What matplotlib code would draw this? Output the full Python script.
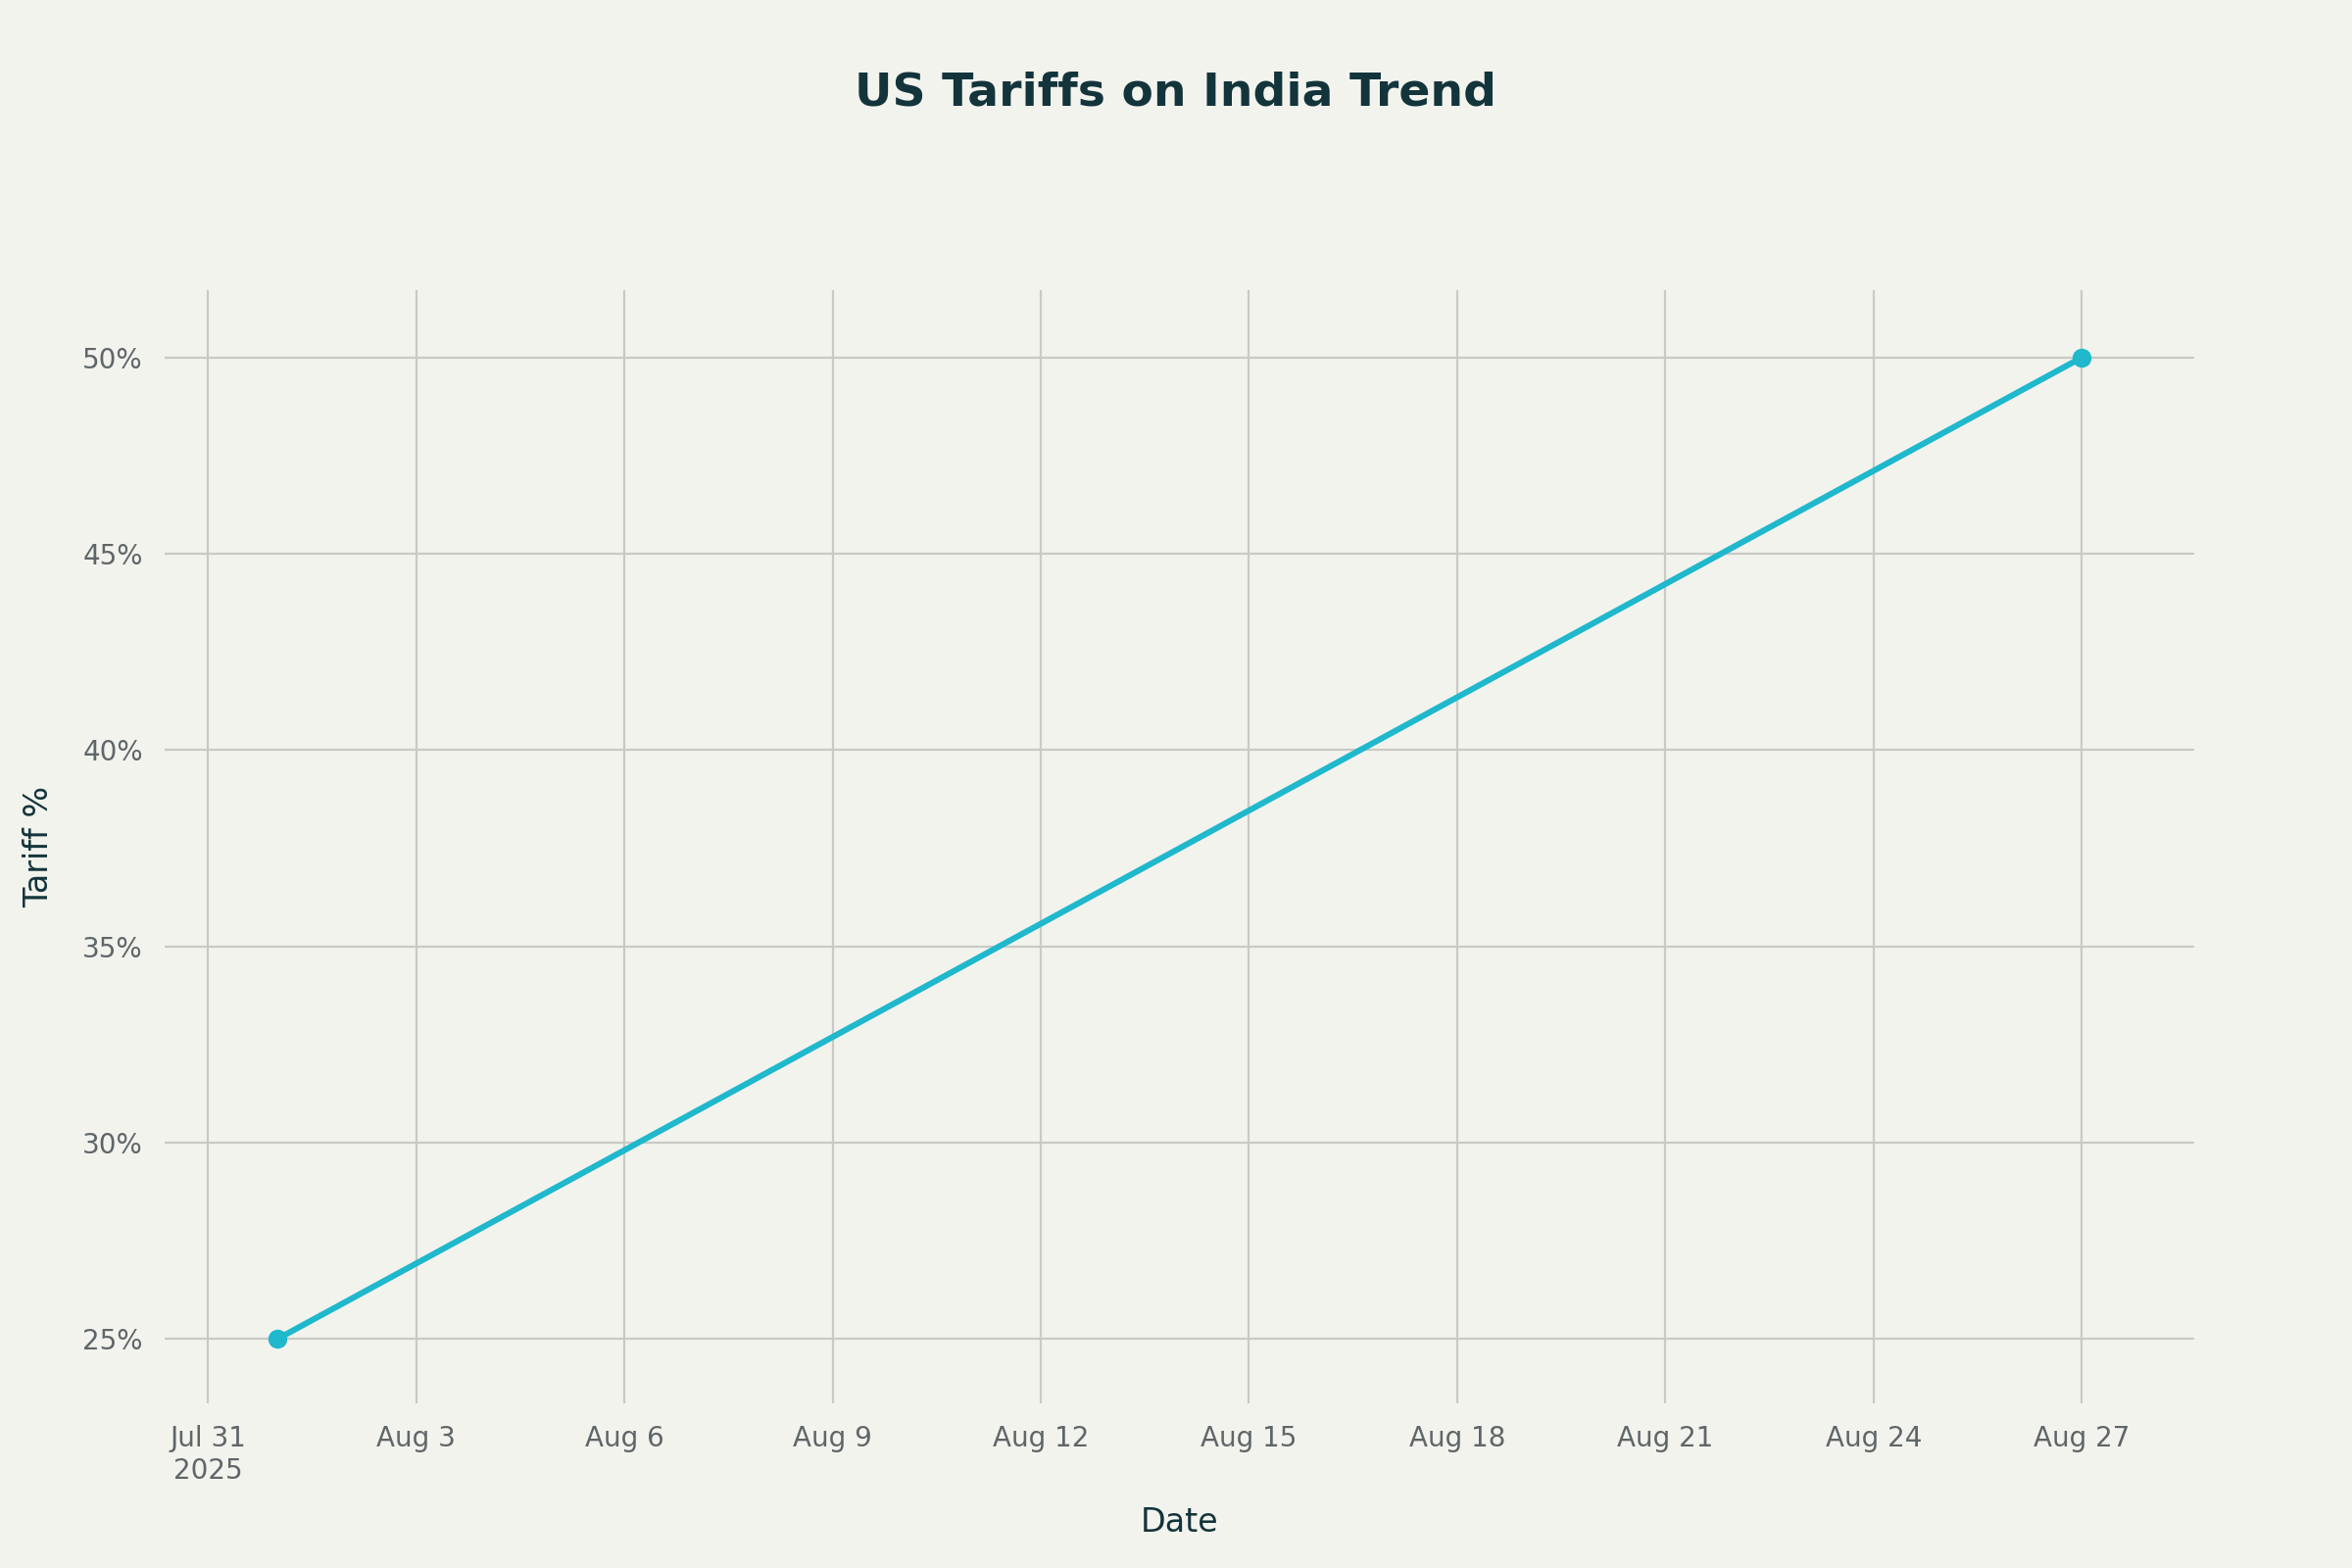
import matplotlib
matplotlib.use("Agg")
import matplotlib.pyplot as plt
import matplotlib.dates as mdates
import pandas as pd

dates = pd.to_datetime(["2025-08-01", "2025-08-27"])
tariffs = [25, 50]
tick_dates = pd.date_range("2025-07-31", "2025-08-27", freq="3D")
tick_labels = ["Jul 31\n2025"] + [d.strftime("Aug %-d") for d in tick_dates[1:]]
yticks = [25, 30, 35, 40, 45, 50]

bg = "#f3f3ee"
fig = plt.figure(figsize=(12, 8), dpi=200, facecolor=bg)
ax = fig.add_axes([0.070, 0.105, 0.863, 0.71], facecolor=bg)
ax.plot(dates, tariffs, color="#1fb8cd", lw=2.2, marker="o", ms=6, zorder=3)
ax.set_xlim(pd.Timestamp("2025-07-31") - pd.Timedelta(hours=15),
            pd.Timestamp("2025-08-27") + pd.Timedelta(hours=39))
ax.set_ylim(23.36, 51.72)
ax.set_xticks(tick_dates)
ax.set_xticklabels(tick_labels)
ax.set_yticks(yticks)
ax.set_yticklabels([f"{v}%" for v in yticks])
ax.grid(True, color="#c9cac6", lw=0.8)
for s in ax.spines.values():
    s.set_visible(False)
ax.tick_params(length=0, labelsize=10, labelcolor="#5f6668", pad=8)
ax.set_xlabel("Date", fontsize=12, color="#13343b", labelpad=8)
ax.set_ylabel("Tariff %", fontsize=12, color="#13343b", labelpad=10)
fig.suptitle("US Tariffs on India Trend", fontsize=17, fontweight="bold",
             color="#13343b", y=0.955)
fig.savefig("out.png", dpi=200, facecolor=bg)
